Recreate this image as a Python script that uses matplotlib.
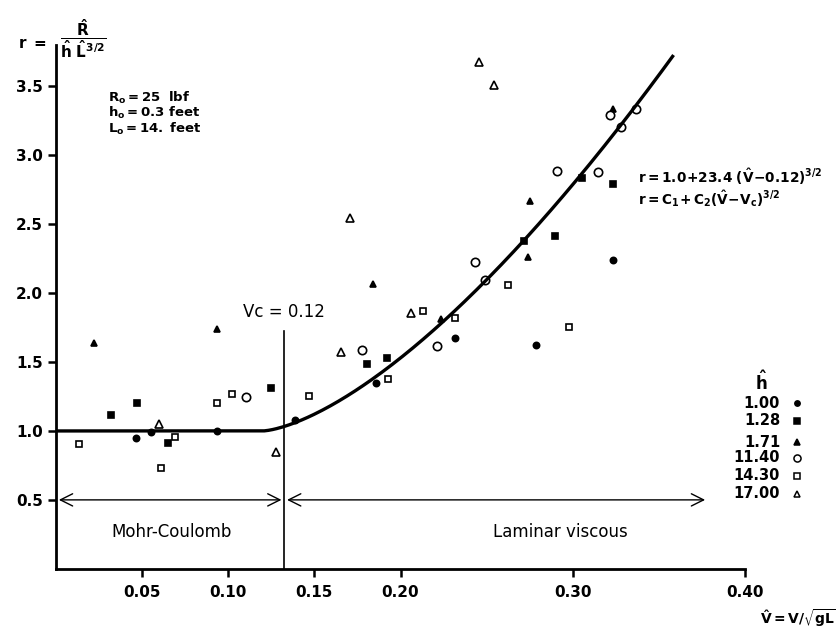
import numpy as np
import matplotlib
matplotlib.use("Agg")
from matplotlib import pyplot as plt

# values (V-hat, r)
v_100 = [0.0466, 0.0549, 0.0937, 0.1385, 0.1857, 0.2318, 0.2787, 0.3234]
r_100 = [0.947, 0.995, 1.000, 1.082, 1.350, 1.674, 1.622, 2.237]

v_128 = [0.0320, 0.0471, 0.0650, 0.1246, 0.1808, 0.1921, 0.2716, 0.2900, 0.3052, 0.3234]
r_128 = [1.116, 1.201, 0.915, 1.314, 1.488, 1.531, 2.375, 2.412, 2.836, 2.788]

v_171 = [0.0223, 0.0937, 0.1839, 0.2237, 0.2742, 0.2750, 0.3236]
r_171 = [1.640, 1.737, 2.067, 1.809, 2.264, 2.667, 3.338]

v_1140 = [0.1100, 0.1777, 0.2212, 0.2435, 0.2493, 0.2910, 0.3147, 0.3217, 0.3279, 0.3370]
r_1140 = [1.249, 1.587, 1.616, 2.225, 2.092, 2.889, 2.879, 3.295, 3.203, 3.338]

v_1430 = [0.0132, 0.0611, 0.0693, 0.0937, 0.1022, 0.1470, 0.1930, 0.2130, 0.2318, 0.2627, 0.2976]
r_1430 = [0.908, 0.734, 0.957, 1.205, 1.266, 1.254, 1.375, 1.870, 1.822, 2.058, 1.755]

v_1700 = [0.0595, 0.1276, 0.1653, 0.1707, 0.2061, 0.2454, 0.2541]
r_1700 = [1.053, 0.850, 1.575, 2.546, 1.857, 3.676, 3.507]

h_labels = ["1.00", "1.28", "1.71", "11.40", "14.30", "17.00"]

# fit r = C1 + C2 (V - Vc)^(3/2)
c1, c2, vc = 1.0, 23.4, 0.12
v_line = 0.1325      # where the Vc marker line is drawn
v_arrow_end = 0.3785
v_curve_end = 0.358

fig = plt.figure(figsize=(8.37, 6.42), dpi=100)
fig.patch.set_facecolor("white")
ax = fig.add_axes([0.067, 0.114, 0.823, 0.816])

series = [
    (v_100, r_100, "o", "black", 4.5),
    (v_128, r_128, "s", "black", 4.5),
    (v_171, r_171, "^", "black", 5),
    (v_1140, r_1140, "o", "white", 6),
    (v_1430, r_1430, "s", "white", 5),
    (v_1700, r_1700, "^", "white", 5.5),
]
for v, r, m, fc, ms in series:
    ax.plot(v, r, linestyle="none", marker=m, markersize=ms,
            markerfacecolor=fc, markeredgecolor="black", markeredgewidth=1.2)

# fitted curve
vv = np.linspace(0, v_curve_end, 300)
rr = c1 + c2 * np.clip(vv - vc, 0, None) ** 1.5
ax.plot(vv, rr, color="black", linewidth=2.4)

ax.set_xlim(0, 0.40)
ax.set_ylim(0, 3.8)
ax.set_xticks([0.05, 0.10, 0.15, 0.20, 0.30, 0.40])
ax.set_xticklabels(["0.05", "0.10", "0.15", "0.20", "0.30", "0.40"])
ax.set_yticks([0.5, 1.0, 1.5, 2.0, 2.5, 3.0, 3.5])
for lab in ax.get_xticklabels() + ax.get_yticklabels():
    lab.set_fontweight("bold")
ax.tick_params(direction="out", length=6, width=1.8, labelsize=11, colors="black")
ax.tick_params(axis="x", pad=6)
for side in ["top", "right"]:
    ax.spines[side].set_visible(False)
for side in ["left", "bottom"]:
    ax.spines[side].set_linewidth(2)

# Vc line and regime arrows
ax.plot([v_line, v_line], [0, 1.725], color="black", linewidth=1.2)
ax.text(v_line, 1.86, "Vc = 0.12", ha="center", va="center", fontsize=12)
ax.annotate("", xy=(0, 0.5), xytext=(v_line, 0.5),
            arrowprops=dict(arrowstyle="<->", color="black", lw=1, mutation_scale=22))
ax.annotate("", xy=(v_line, 0.5), xytext=(v_arrow_end, 0.5),
            arrowprops=dict(arrowstyle="<->", color="black", lw=1, mutation_scale=22))
ax.text(0.067, 0.27, "Mohr-Coulomb", ha="center", va="center", fontsize=12)
ax.text(0.293, 0.27, "Laminar viscous", ha="center", va="center", fontsize=12)

# reference quantities
ax.text(0.030, 3.39, r"$\mathbf{R_o=25\ \ lbf}$", fontsize=9.5)
ax.text(0.030, 3.275, r"$\mathbf{h_o=0.3\ feet}$", fontsize=9.5)
ax.text(0.030, 3.16, r"$\mathbf{L_o=14.\ feet}$", fontsize=9.5)

# fit equations
ax.text(0.338, 2.80, r"$\mathbf{r = 1.0\!+\!23.4\ (\hat{V}\!-\!0.12)^{3/2}}$", fontsize=9.8)
ax.text(0.338, 2.64, r"$\mathbf{r = C_1\!+C_2(\hat{V}\!-\!V_c)^{3/2}}$", fontsize=9.8)

# axis titles
fig.text(0.022, 0.932, r"$\mathbf{r\ =}$", fontsize=11, va="center", ha="left")
fig.text(0.072, 0.940, r"$\mathbf{\dfrac{\hat{R}}{\hat{h}\ \hat{L}^{3/2}}}$",
         fontsize=11, va="center", ha="left")
fig.text(0.908, 0.038, r"$\mathbf{\hat{V}=V/\sqrt{gL}}$", fontsize=10,
         ha="left", va="center")

# legend for h-hat
leg_x_num = 0.932
leg_x_mark = 0.952
fig.text(0.910, 0.405, r"$\mathbf{\hat{h}}$", fontsize=12, ha="center", va="center")
leg_y = [0.372, 0.345, 0.311, 0.287, 0.259, 0.231]
for (v, r, m, fc, ms), lab, y in zip(series, h_labels, leg_y):
    fig.text(leg_x_num, y, lab, fontsize=10.5, fontweight="bold", ha="right", va="center")
    fig.add_artist(plt.Line2D([leg_x_mark], [y], transform=fig.transFigure, linestyle="none",
                              marker=m, markersize=ms * 0.85, markerfacecolor=fc,
                              markeredgecolor="black", markeredgewidth=1.1))

fig.savefig("out.png", dpi=100)
